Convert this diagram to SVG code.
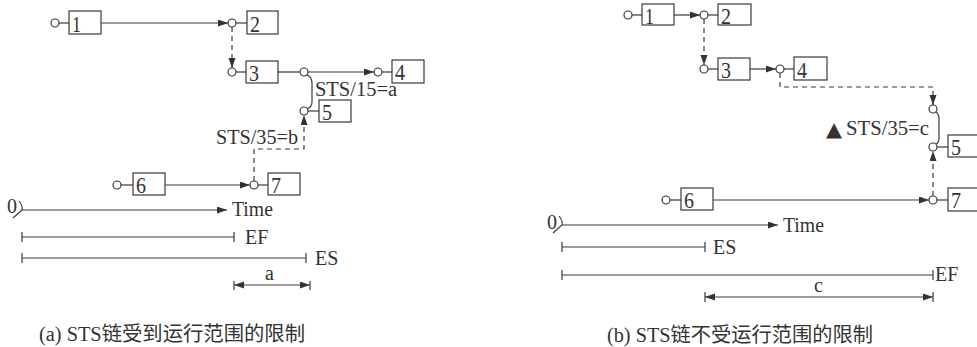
<svg xmlns="http://www.w3.org/2000/svg" width="977" height="347" viewBox="0 0 977 347">
  <style>
    .ln { fill: none; stroke: #3a3a3a; stroke-width: 1.2; }
    .dash { fill: none; stroke: #3a3a3a; stroke-width: 1.2; stroke-dasharray: 5 4; }
    .box { fill: #fff; stroke: #3a3a3a; stroke-width: 1.2; }
    .pt { fill: #fff; stroke: #3a3a3a; stroke-width: 1.2; }
    .num { font-family: "Liberation Serif", "Times New Roman", serif; font-size: 24px; fill: #333; }
    .lbl { font-family: "Liberation Serif", "Times New Roman", serif; font-size: 20px; fill: #333; }
    .mark { font-family: "DejaVu Sans", sans-serif; font-size: 20px; fill: #333; }
    .cap { font-family: "Liberation Serif", "Noto Sans CJK SC", serif; font-size: 20px; fill: #333; }
  </style>
  <defs>
    <marker id="ah" markerUnits="userSpaceOnUse" markerWidth="11" markerHeight="8" refX="10" refY="3.5" orient="auto-start-reverse">
      <path d="M0,0 L10,3.5 L0,7 Z" fill="#333"/>
    </marker>
  </defs>

  <!-- ===== (a) ===== -->
  <g id="a-node1">
    <circle class="pt" cx="55" cy="23" r="4"/>
    <line class="ln" x1="59" y1="23" x2="69" y2="23"/>
    <rect class="box" x="69" y="11" width="32" height="23"/>
    <text class="num" x="72" y="32" textLength="9" lengthAdjust="spacingAndGlyphs">1</text>
  </g>
  <g id="a-node2">
    <circle class="pt" cx="232" cy="23" r="4"/>
    <line class="ln" x1="236" y1="23" x2="247" y2="23"/>
    <rect class="box" x="247" y="11" width="31" height="23"/>
    <text class="num" x="250" y="32" textLength="10" lengthAdjust="spacingAndGlyphs">2</text>
  </g>
  <g id="a-node3">
    <circle class="pt" cx="232" cy="72" r="4"/>
    <line class="ln" x1="236" y1="72" x2="246" y2="72"/>
    <rect class="box" x="246" y="61" width="32" height="22"/>
    <text class="num" x="249" y="81" textLength="10" lengthAdjust="spacingAndGlyphs">3</text>
  </g>
  <g id="a-node4">
    <circle class="pt" cx="378" cy="72" r="4"/>
    <line class="ln" x1="382" y1="72" x2="392" y2="72"/>
    <rect class="box" x="392" y="60" width="32" height="23"/>
    <text class="num" x="395" y="80" textLength="10" lengthAdjust="spacingAndGlyphs">4</text>
  </g>
  <g id="a-node5">
    <circle class="pt" cx="304" cy="111" r="4"/>
    <line class="ln" x1="308" y1="111" x2="319" y2="111"/>
    <rect class="box" x="319" y="100" width="32" height="22"/>
    <text class="num" x="322" y="120" textLength="10" lengthAdjust="spacingAndGlyphs">5</text>
  </g>
  <g id="a-node6">
    <circle class="pt" cx="117" cy="185" r="4"/>
    <line class="ln" x1="121" y1="185" x2="133" y2="185"/>
    <rect class="box" x="133" y="173" width="32" height="22"/>
    <text class="num" x="136" y="193" textLength="10" lengthAdjust="spacingAndGlyphs">6</text>
  </g>
  <g id="a-node7">
    <circle class="pt" cx="254" cy="185" r="4"/>
    <line class="ln" x1="258" y1="185" x2="268" y2="185"/>
    <rect class="box" x="268" y="173" width="32" height="22"/>
    <text class="num" x="271" y="193" textLength="10" lengthAdjust="spacingAndGlyphs">7</text>
  </g>

  <g id="a-connectors">
    <line class="ln" x1="101" y1="23" x2="228" y2="23" marker-end="url(#ah)"/>
    <line class="dash" x1="232" y1="27" x2="232" y2="68" marker-end="url(#ah)"/>
    <line class="ln" x1="278" y1="72" x2="300" y2="72"/>
    <circle class="pt" cx="304" cy="72" r="4"/>
    <line class="ln" x1="308" y1="72" x2="374" y2="72" marker-end="url(#ah)"/>
    <path class="ln" d="M307,75 Q312,77 312,83 L312,102 Q312,107 307,109"/>
    <line class="ln" x1="165" y1="185" x2="250" y2="185" marker-end="url(#ah)"/>
    <polyline class="dash" points="254,181 254,149 304,149 304,115" marker-end="url(#ah)"/>
    <text class="lbl" x="315" y="96" textLength="82" lengthAdjust="spacingAndGlyphs">STS/15=a</text>
    <text class="lbl" x="216" y="144" textLength="82" lengthAdjust="spacingAndGlyphs">STS/35=b</text>
  </g>

  <g id="a-scale">
    <text class="lbl" x="7" y="213">0</text>
    <path class="ln" d="M19,201 Q23,206 22,210 L13,218"/>
    <line class="ln" x1="22" y1="210" x2="227" y2="210" marker-end="url(#ah)"/>
    <text class="lbl" x="232" y="216" textLength="41" lengthAdjust="spacingAndGlyphs">Time</text>
    <line class="ln" x1="22" y1="237" x2="234" y2="237"/>
    <line class="ln" x1="22" y1="232" x2="22" y2="242"/>
    <line class="ln" x1="234" y1="232" x2="234" y2="242"/>
    <text class="lbl" x="245" y="244">EF</text>
    <line class="ln" x1="22" y1="258" x2="306" y2="258"/>
    <line class="ln" x1="22" y1="253" x2="22" y2="263"/>
    <line class="ln" x1="306" y1="253" x2="306" y2="263"/>
    <text class="lbl" x="315" y="265">ES</text>
    <line class="ln" x1="234" y1="281" x2="234" y2="290"/>
    <line class="ln" x1="310" y1="281" x2="310" y2="290"/>
    <line class="ln" x1="234" y1="285" x2="310" y2="285" marker-start="url(#ah)" marker-end="url(#ah)"/>
    <text class="lbl" x="265" y="280">a</text>
  </g>
  <text class="cap" x="39" y="341" textLength="266" lengthAdjust="spacingAndGlyphs">(a) STS链受到运行范围的限制</text>

  <!-- ===== (b) ===== -->
  <g id="b-node1">
    <circle class="pt" cx="628" cy="15" r="4"/>
    <line class="ln" x1="632" y1="15" x2="642" y2="15"/>
    <rect class="box" x="642" y="4" width="32" height="21"/>
    <text class="num" x="645" y="24" textLength="9" lengthAdjust="spacingAndGlyphs">1</text>
  </g>
  <g id="b-node2">
    <circle class="pt" cx="704" cy="15" r="4"/>
    <line class="ln" x1="708" y1="15" x2="718" y2="15"/>
    <rect class="box" x="718" y="4" width="33" height="21"/>
    <text class="num" x="721" y="24" textLength="10" lengthAdjust="spacingAndGlyphs">2</text>
  </g>
  <g id="b-node3">
    <circle class="pt" cx="704" cy="69" r="4"/>
    <line class="ln" x1="708" y1="69" x2="718" y2="69"/>
    <rect class="box" x="718" y="58" width="32" height="22"/>
    <text class="num" x="721" y="78" textLength="10" lengthAdjust="spacingAndGlyphs">3</text>
  </g>
  <g id="b-node4">
    <circle class="pt" cx="780" cy="69" r="4"/>
    <line class="ln" x1="784" y1="69" x2="794" y2="69"/>
    <rect class="box" x="794" y="57" width="33" height="23"/>
    <text class="num" x="797" y="78" textLength="10" lengthAdjust="spacingAndGlyphs">4</text>
  </g>
  <g id="b-node5">
    <circle class="pt" cx="933" cy="147" r="4"/>
    <line class="ln" x1="937" y1="147" x2="948" y2="147"/>
    <rect class="box" x="948" y="135" width="40" height="22"/>
    <text class="num" x="951" y="155" textLength="10" lengthAdjust="spacingAndGlyphs">5</text>
  </g>
  <g id="b-node6">
    <circle class="pt" cx="666" cy="200" r="4"/>
    <line class="ln" x1="670" y1="200" x2="681" y2="200"/>
    <rect class="box" x="681" y="188" width="32" height="22"/>
    <text class="num" x="684" y="208" textLength="10" lengthAdjust="spacingAndGlyphs">6</text>
  </g>
  <g id="b-node7">
    <circle class="pt" cx="933" cy="200" r="4"/>
    <line class="ln" x1="937" y1="200" x2="948" y2="200"/>
    <rect class="box" x="948" y="188" width="40" height="23"/>
    <text class="num" x="951" y="208" textLength="10" lengthAdjust="spacingAndGlyphs">7</text>
  </g>

  <g id="b-connectors">
    <line class="ln" x1="674" y1="15" x2="700" y2="15" marker-end="url(#ah)"/>
    <line class="dash" x1="704" y1="19" x2="704" y2="65" marker-end="url(#ah)"/>
    <line class="ln" x1="750" y1="69" x2="776" y2="69" marker-end="url(#ah)"/>
    <polyline class="dash" points="780,73 780,87 933,87 933,105" marker-end="url(#ah)"/>
    <circle class="pt" cx="933" cy="109" r="4"/>
    <path class="ln" d="M936,112 Q939,114 939,119 L939,138 Q939,143 936,144"/>
    <line class="ln" x1="713" y1="200" x2="929" y2="200" marker-end="url(#ah)"/>
    <line class="dash" x1="933" y1="196" x2="933" y2="151" marker-end="url(#ah)"/>
    <text class="mark" x="826" y="136" textLength="16" lengthAdjust="spacingAndGlyphs">▲</text>
    <text class="lbl" x="846" y="135" textLength="83" lengthAdjust="spacingAndGlyphs">STS/35=c</text>
  </g>

  <g id="b-scale">
    <text class="lbl" x="547" y="229">0</text>
    <path class="ln" d="M559,216 Q563,221 562,225 L553,233"/>
    <line class="ln" x1="562" y1="225" x2="778" y2="225" marker-end="url(#ah)"/>
    <text class="lbl" x="783" y="232" textLength="41" lengthAdjust="spacingAndGlyphs">Time</text>
    <line class="ln" x1="562" y1="247" x2="705" y2="247"/>
    <line class="ln" x1="562" y1="242" x2="562" y2="252"/>
    <line class="ln" x1="705" y1="242" x2="705" y2="252"/>
    <text class="lbl" x="713" y="254">ES</text>
    <line class="ln" x1="562" y1="275" x2="933" y2="275"/>
    <line class="ln" x1="562" y1="270" x2="562" y2="280"/>
    <line class="ln" x1="933" y1="270" x2="933" y2="280"/>
    <text class="lbl" x="935" y="281">EF</text>
    <line class="ln" x1="705" y1="292" x2="705" y2="302"/>
    <line class="ln" x1="933" y1="292" x2="933" y2="302"/>
    <line class="ln" x1="705" y1="297" x2="933" y2="297" marker-start="url(#ah)" marker-end="url(#ah)"/>
    <text class="lbl" x="814" y="292">c</text>
  </g>
  <text class="cap" x="607" y="342" textLength="266" lengthAdjust="spacingAndGlyphs">(b) STS链不受运行范围的限制</text>
</svg>
